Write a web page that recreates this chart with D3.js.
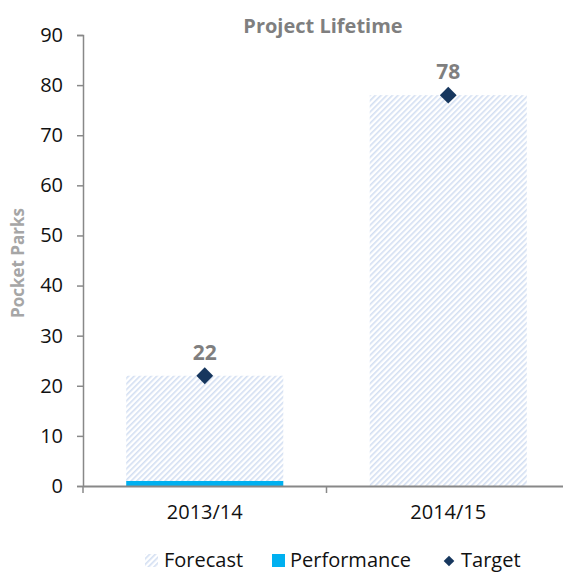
<!DOCTYPE html>
<html>
<head>
<meta charset="utf-8">
<script src="https://cdn.jsdelivr.net/npm/d3@7"></script>
<style>
  body { margin: 0; background: #fff; }
  text { font-family: "Open Sans", "Noto Sans", sans-serif; }
</style>
</head>
<body>
<div id="chart"></div>
<script>
// Project Lifetime - forecast / performance / target by year

const categories = ["2013/14", "2014/15"];
const forecast = [22, 78];
const performance = [1, 0];
const target = [22, 78];
const yTicks = [0, 10, 20, 30, 40, 50, 60, 70, 80, 90];

const width = 563;
const height = 573;
const margin = { top: 35, right: -7, bottom: 87, left: 83 };

const svg = d3.select("#chart")
  .append("svg")
  .attr("width", width)
  .attr("height", height);

// hatch pattern for forecast bars
const defs = svg.append("defs");
const pat = defs.append("pattern")
  .attr("id", "hatch")
  .attr("patternUnits", "userSpaceOnUse")
  .attr("width", 4)
  .attr("height", 4)
  .attr("patternTransform", "rotate(45)");
pat.append("rect").attr("width", 4).attr("height", 4).attr("fill", "#fff");
pat.append("rect").attr("width", 1.6).attr("height", 4).attr("fill", "#d3dff2");

const x = d3.scaleBand()
  .domain(categories)
  .range([margin.left, width - margin.right])
  .paddingInner(0.355)
  .paddingOuter(0.1775);

const xOuter = d3.scaleBand()
  .domain(categories)
  .range([margin.left, width - margin.right]);

const y = d3.scaleLinear()
  .domain([0, 90])
  .range([height - margin.bottom, margin.top]);

// forecast bars
svg.selectAll(".forecast")
  .data(categories)
  .enter()
  .append("rect")
  .attr("class", "forecast")
  .attr("x", d => x(d))
  .attr("width", x.bandwidth())
  .attr("y", (d, i) => y(forecast[i]))
  .attr("height", (d, i) => y(0) - y(forecast[i]))
  .attr("fill", "url(#hatch)");

// performance bars
svg.selectAll(".perf")
  .data(categories)
  .enter()
  .append("rect")
  .attr("class", "perf")
  .attr("x", d => x(d))
  .attr("width", x.bandwidth())
  .attr("y", (d, i) => y(performance[i]))
  .attr("height", (d, i) => y(0) - y(performance[i]))
  .attr("fill", "#00b0f0");

// axes
const yAxis = d3.axisLeft(y).tickValues(yTicks).tickSize(6).tickPadding(14);
const gy = svg.append("g")
  .attr("transform", `translate(${margin.left},0)`)
  .call(yAxis);
gy.select(".domain").attr("stroke", "#888").attr("stroke-width", 1.5);
gy.selectAll(".tick line").attr("stroke", "#888").attr("stroke-width", 1.5);
gy.selectAll(".tick text").attr("font-size", 20).attr("fill", "#111")
  .style("font-family", "'Open Sans', sans-serif");

const gx = svg.append("g")
  .attr("transform", `translate(0,${y(0)})`)
  .call(d3.axisBottom(xOuter).tickSize(0).tickPadding(19).tickSizeOuter(0));
gx.select(".domain").attr("stroke", "#888").attr("stroke-width", 2);
gx.selectAll(".tick text").attr("font-size", 20).attr("fill", "#111")
  .style("font-family", "'Open Sans', sans-serif");

// category separator ticks
svg.selectAll(".sep")
  .data(categories)
  .enter()
  .append("line")
  .attr("x1", d => xOuter(d))
  .attr("x2", d => xOuter(d))
  .attr("y1", y(0))
  .attr("y2", y(0) + 7)
  .attr("stroke", "#888")
  .attr("stroke-width", 1.5);

// target diamonds
const diamond = d3.symbol().type(d3.symbolDiamond2).size(180);
svg.selectAll(".target")
  .data(categories)
  .enter()
  .append("path")
  .attr("class", "target")
  .attr("d", diamond)
  .attr("transform", (d, i) => `translate(${x(d) + x.bandwidth() / 2},${y(target[i])})`)
  .attr("fill", "#17375e");

// target labels
svg.selectAll(".tlabel")
  .data(categories)
  .enter()
  .append("text")
  .attr("x", d => x(d) + x.bandwidth() / 2)
  .attr("y", (d, i) => y(target[i]) - 16)
  .attr("text-anchor", "middle")
  .attr("font-size", 21)
  .attr("font-weight", "bold")
  .attr("fill", "#7f7f7f")
  .text((d, i) => target[i]);

// title
svg.append("text")
  .attr("x", 323)
  .attr("y", 33)
  .attr("text-anchor", "middle")
  .attr("font-size", 20)
  .attr("font-weight", "bold")
  .attr("fill", "#7f7f7f")
  .text("Project Lifetime");

// y label
svg.append("text")
  .attr("transform", "translate(24,263) rotate(-90)")
  .attr("text-anchor", "middle")
  .attr("font-size", 17)
  .attr("font-weight", "bold")
  .attr("fill", "#a6a6a6")
  .text("Pocket Parks");

// legend
const legend = svg.append("g").attr("transform", "translate(0,567)");
legend.append("rect").attr("x", 145).attr("y", -13).attr("width", 13).attr("height", 13)
  .attr("fill", "url(#hatch)");
legend.append("text").attr("x", 164).attr("y", 0).attr("font-size", 20).attr("fill", "#111").text("Forecast");
legend.append("rect").attr("x", 272).attr("y", -13).attr("width", 13).attr("height", 13)
  .attr("fill", "#00b0f0");
legend.append("text").attr("x", 290).attr("y", 0).attr("font-size", 20).attr("fill", "#111").text("Performance");
legend.append("path").attr("d", d3.symbol().type(d3.symbolDiamond2).size(72))
  .attr("transform", "translate(449,-6)").attr("fill", "#17375e");
legend.append("text").attr("x", 461).attr("y", 0).attr("font-size", 20).attr("fill", "#111").text("Target");
</script>
</body>
</html>
